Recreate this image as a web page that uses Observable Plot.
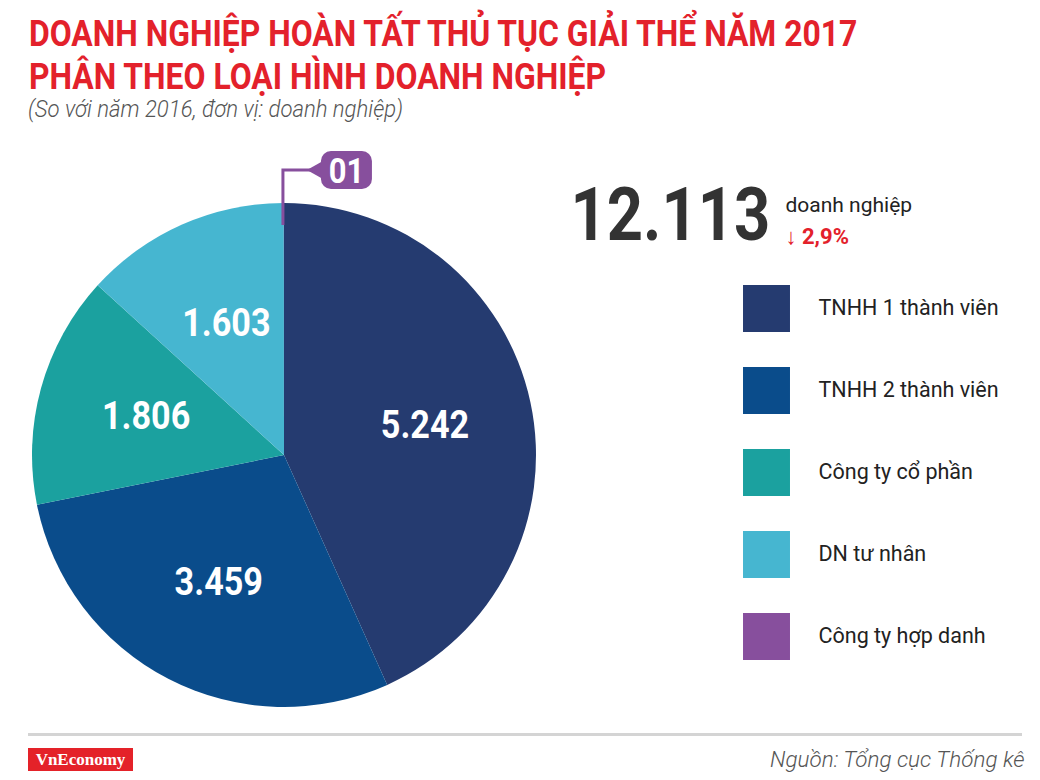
<!DOCTYPE html>
<html lang="vi"><head><meta charset="utf-8">
<script src="https://cdn.jsdelivr.net/npm/d3@7"></script>
<script src="https://cdn.jsdelivr.net/npm/@observablehq/plot@0.6"></script>
<style>
html,body{margin:0;padding:0;background:#fff;}
#page{position:relative;width:1040px;height:780px;overflow:hidden;font-family:Roboto,"Noto Sans",sans-serif;}
#head{position:relative;height:135px;}
.fit{position:absolute;white-space:nowrap;line-height:1;transform-origin:0 0;}
#t1,#t2{left:29px;font-size:36px;font-weight:700;color:#e3212b;}
#t1{top:16px;}
#t2{top:59px;}
#sub{left:28px;top:98px;font-size:23px;font-style:italic;font-weight:300;color:#555;}
#chart{position:relative;height:595px;}
#foot{position:relative;height:50px;}
#rule{position:absolute;left:28px;top:3px;width:994px;height:3px;background:#d4d4d4;}
#brand{position:absolute;left:28px;top:18px;width:105px;height:23px;background:#e42229;color:#fff;font-family:"Liberation Serif",serif;font-weight:700;font-size:17px;line-height:23px;text-align:center;}
#src{right:15px;top:19px;font-size:22px;font-style:italic;font-weight:300;color:#555;transform-origin:100% 0;}
</style>
</head>
<body>
<div id="page">
  <div id="head">
    <div id="t1" class="fit"></div>
    <div id="t2" class="fit"></div>
    <div id="sub" class="fit"></div>
  </div>
  <div id="chart"></div>
  <div id="foot">
    <div id="rule"></div>
    <div id="brand"></div>
    <div id="src" class="fit"></div>
  </div>
</div>
<script>
// ---- data ----
const categories = ["TNHH 1 thành viên", "TNHH 2 thành viên", "Công ty cổ phần", "DN tư nhân", "Công ty hợp danh"];
const values = [5242, 3459, 1806, 1603, 1];
const colors = ["#253b70", "#0a4c8b", "#1ba19f", "#46b6d0", "#874f9d"];
const totalCount = 12113;
const changePct = -2.9;
const unitLabel = "doanh nghiệp";
const titleLines = ["DOANH NGHIỆP HOÀN TẤT THỦ TỤC GIẢI THỂ NĂM 2017", "PHÂN THEO LOẠI HÌNH DOANH NGHIỆP"];
const subtitle = "(So với năm 2016, đơn vị: doanh nghiệp)";
const sourceText = "Nguồn: Tổng cục Thống kê";
const brandText = "VnEconomy";

// ---- formatting ----
const vn = d3.formatLocale({decimal: ",", thousands: ".", grouping: [3], currency: ["", ""]});
const fmtInt = vn.format(",d");
const fmtPct = vn.format(".1f");

document.getElementById("t1").textContent = titleLines[0];
document.getElementById("t2").textContent = titleLines[1];
document.getElementById("sub").textContent = subtitle;
document.getElementById("src").textContent = sourceText;
document.getElementById("brand").textContent = brandText;

// ---- layout ----
const pieCx = 284, pieCy = 455, pieR = 252;
const rows = categories.map((category, i) => ({category, value: values[i]}));
const sum = d3.sum(values);
const arcs = d3.pie().sort(null).value(d => d.value)(rows);
const labelArc = d3.arc().innerRadius(pieR * 0.57).outerRadius(pieR * 0.57);
const sliceLabels = arcs.filter(a => a.data.value / sum > 0.05).map(a => {
  const [dx, dy] = labelArc.centroid(a);
  return {x: pieCx + dx, y: pieCy + dy, text: fmtInt(a.data.value)};
});

function pieMark(index, scales) {
  const {x, y, color} = scales;
  const cx = x(pieCx), cy = y(pieCy), r = x(pieCx + pieR) - x(pieCx);
  const arc = d3.arc().innerRadius(0).outerRadius(r);
  const g = d3.create("svg:g").attr("transform", `translate(${cx},${cy})`);
  g.selectAll("path.slice").data(arcs).join("path").attr("class", "slice")
    .attr("d", arc).attr("fill", d => color(d.data.category));
  for (const a of arcs.filter(a => a.data.value / sum < 0.01)) {
    const m = (a.startAngle + a.endAngle) / 2;
    const px = r * Math.sin(m) - 1;
    const ly = -r - 33;
    const col = color(a.data.category);
    g.append("path").attr("d", `M${px},${-r + 22}V${ly}H${px + 28}`)
      .attr("stroke", col).attr("stroke-width", 3).attr("fill", "none");
    const bx = px + 38, bw = 51, bh = 38;
    g.append("path").attr("d", `M${px + 24},${ly}L${bx + 2},${ly - 9}L${bx + 2},${ly + 9}Z`).attr("fill", col);
    g.append("rect").attr("x", bx).attr("y", ly - bh / 2).attr("width", bw).attr("height", bh)
      .attr("rx", 10).attr("fill", col);
    g.append("text").attr("transform", `translate(${bx + bw / 2},${ly}) scale(0.86,1)`).attr("dy", "0.36em")
      .attr("text-anchor", "middle").attr("fill", "#fff").attr("font-size", 36).attr("font-weight", 700)
      .text(d3.format("02d")(a.data.value));
  }
  return g.node();
}

const legendY = (d, i) => 308 + i * 82;

const plot = Plot.plot({
  width: 1040, height: 595, margin: 0,
  style: {fontFamily: "Roboto, 'Noto Sans', sans-serif", background: "transparent", overflow: "visible"},
  x: {domain: [0, 1040], range: [0, 1040], axis: null},
  y: {domain: [135, 730], range: [0, 595], axis: null},
  color: {domain: categories, range: colors},
  marks: [
    pieMark,
    Plot.text(sliceLabels, {x: "x", y: "y", text: "text", fill: "#fff", fontSize: 38, fontWeight: 700}),
    Plot.dot(rows, {x: () => 766, y: legendY, r: 26.5, symbol: "square", fill: "category"}),
    Plot.text(rows, {x: () => 818, y: legendY, text: "category", textAnchor: "start", fontSize: 21.5, fill: "#222"}),
    Plot.text([totalCount], {x: () => 570, y: () => 216, text: d => fmtInt(d), textAnchor: "start",
      fontSize: 74, fontWeight: 700, fill: "#333"}),
    Plot.text([unitLabel], {x: () => 785, y: () => 205, text: d => d, textAnchor: "start", fontSize: 21, fill: "#222"}),
    Plot.text([changePct], {x: () => 785, y: () => 236, text: d => (d < 0 ? "↓ " : "↑ ") + fmtPct(Math.abs(d)) + "%",
      textAnchor: "start", fontSize: 22, fontWeight: 700, fill: "#e3212b"})
  ]
});
document.getElementById("chart").appendChild(plot);

// condensed look (the original uses a condensed face): horizontal scale about each text's anchor
const bigText = fmtInt(totalCount);
const labelTexts = new Set(sliceLabels.map(d => d.text));
for (const t of plot.querySelectorAll("text")) {
  const s = t.textContent;
  let k = null;
  if (s === bigText) k = 0.855;
  else if (labelTexts.has(s)) k = 0.9;
  if (k) {
    const tr = t.getAttribute("transform");
    if (tr) t.setAttribute("transform", `${tr} scale(${k},1)`);
    else {
      const x0 = +t.getAttribute("x") || 0, y0 = +t.getAttribute("y") || 0;
      t.removeAttribute("x"); t.removeAttribute("y");
      t.setAttribute("transform", `translate(${x0},${y0}) scale(${k},1)`);
    }
  }
}

function fit() {
  const t1 = document.getElementById("t1"), t2 = document.getElementById("t2");
  const s = 828 / t1.offsetWidth;
  t1.style.transform = `scaleX(${s})`;
  t2.style.transform = `scaleX(${s})`;
  const sub = document.getElementById("sub");
  sub.style.transform = `scaleX(${375 / sub.offsetWidth})`;
  const src = document.getElementById("src");
  src.style.transform = `scaleX(${255 / src.offsetWidth})`;
}
fit();
if (document.fonts && document.fonts.ready) document.fonts.ready.then(fit);
</script>
</body></html>
